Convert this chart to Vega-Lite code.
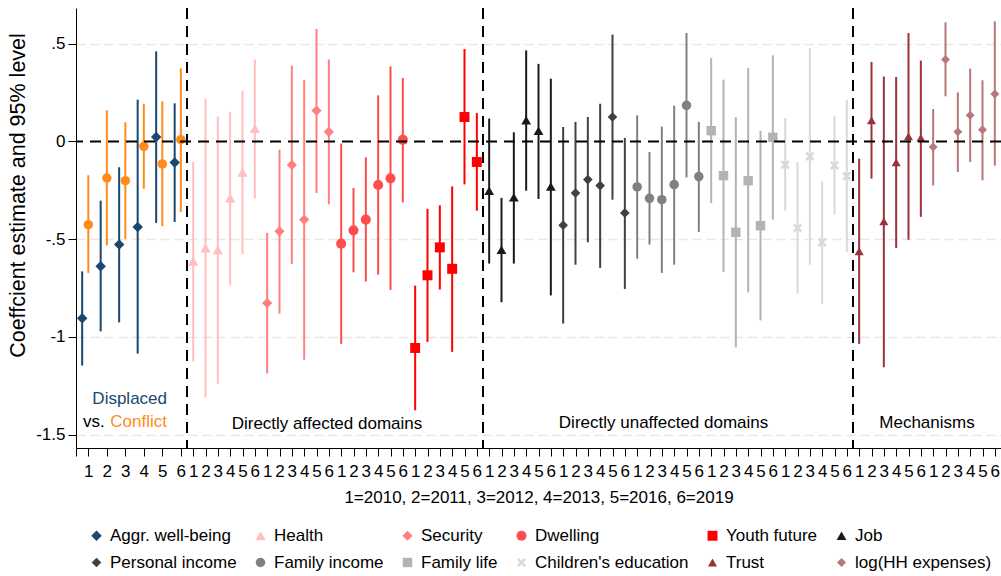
{
  "$schema": "https://vega.github.io/schema/vega-lite/v6.json",
  "width": 925,
  "height": 440,
  "autosize": {"type": "none"},
  "padding": {"left": 76, "top": 8, "right": 0, "bottom": 128},
  "config": {"font": "Liberation Sans", "view": {"stroke": null}},
  "resolve": {"axis": {"x": "independent", "y": "independent"}, "legend": {"color": "independent", "shape": "independent", "size": "independent"}},
  "datasets": {
    "main": [
      {"s": "Aggr. well-being", "x": 0.5, "est": -0.905, "lo": -1.147, "hi": -0.665},
      {"s": "Aggr. well-being", "x": 2, "est": -0.639, "lo": -0.972, "hi": -0.303},
      {"s": "Aggr. well-being", "x": 3.5, "est": -0.528, "lo": -0.926, "hi": -0.132},
      {"s": "Aggr. well-being", "x": 5, "est": -0.438, "lo": -1.086, "hi": 0.214},
      {"s": "Aggr. well-being", "x": 6.5, "est": 0.023, "lo": -0.417, "hi": 0.461},
      {"s": "Aggr. well-being", "x": 8, "est": -0.108, "lo": -0.412, "hi": 0.195},
      {"s": "Health", "x": 9.5, "est": -0.613, "lo": -1.125, "hi": -0.105},
      {"s": "Health", "x": 10.5, "est": -0.545, "lo": -1.31, "hi": 0.219},
      {"s": "Health", "x": 11.5, "est": -0.554, "lo": -1.24, "hi": 0.128},
      {"s": "Health", "x": 12.5, "est": -0.289, "lo": -0.736, "hi": 0.151},
      {"s": "Health", "x": 13.5, "est": -0.158, "lo": -0.576, "hi": 0.26},
      {"s": "Health", "x": 14.5, "est": 0.066, "lo": -0.293, "hi": 0.419},
      {"s": "Security", "x": 15.5, "est": -0.827, "lo": -1.188, "hi": -0.468},
      {"s": "Security", "x": 16.5, "est": -0.46, "lo": -0.881, "hi": -0.042},
      {"s": "Security", "x": 17.5, "est": -0.12, "lo": -0.627, "hi": 0.388},
      {"s": "Security", "x": 18.5, "est": -0.4, "lo": -1.117, "hi": 0.316},
      {"s": "Security", "x": 19.5, "est": 0.158, "lo": -0.264, "hi": 0.576},
      {"s": "Security", "x": 20.5, "est": 0.049, "lo": -0.322, "hi": 0.419},
      {"s": "Dwelling", "x": 21.5, "est": -0.523, "lo": -1.036, "hi": -0.011},
      {"s": "Dwelling", "x": 22.5, "est": -0.455, "lo": -0.67, "hi": -0.238},
      {"s": "Dwelling", "x": 23.5, "est": -0.4, "lo": -0.717, "hi": -0.081},
      {"s": "Dwelling", "x": 24.5, "est": -0.223, "lo": -0.682, "hi": 0.236},
      {"s": "Dwelling", "x": 25.5, "est": -0.189, "lo": -0.76, "hi": 0.384},
      {"s": "Dwelling", "x": 26.5, "est": 0.008, "lo": -0.312, "hi": 0.325},
      {"s": "Youth future", "x": 27.5, "est": -1.057, "lo": -1.376, "hi": -0.738},
      {"s": "Youth future", "x": 28.5, "est": -0.685, "lo": -1.026, "hi": -0.345},
      {"s": "Youth future", "x": 29.5, "est": -0.542, "lo": -0.758, "hi": -0.327},
      {"s": "Youth future", "x": 30.5, "est": -0.652, "lo": -1.077, "hi": -0.23},
      {"s": "Youth future", "x": 31.5, "est": 0.125, "lo": -0.22, "hi": 0.473},
      {"s": "Youth future", "x": 32.5, "est": -0.105, "lo": -0.354, "hi": 0.146},
      {"s": "Job", "x": 33.5, "est": -0.252, "lo": -0.625, "hi": 0.117},
      {"s": "Job", "x": 34.5, "est": -0.554, "lo": -0.823, "hi": -0.289},
      {"s": "Job", "x": 35.5, "est": -0.286, "lo": -0.625, "hi": 0.047},
      {"s": "Job", "x": 36.5, "est": 0.108, "lo": -0.252, "hi": 0.466},
      {"s": "Job", "x": 37.5, "est": 0.055, "lo": -0.294, "hi": 0.397},
      {"s": "Job", "x": 38.5, "est": -0.23, "lo": -0.788, "hi": 0.321},
      {"s": "Personal income", "x": 39.5, "est": -0.429, "lo": -0.932, "hi": 0.074},
      {"s": "Personal income", "x": 40.5, "est": -0.264, "lo": -0.631, "hi": 0.1},
      {"s": "Personal income", "x": 41.5, "est": -0.195, "lo": -0.516, "hi": 0.125},
      {"s": "Personal income", "x": 42.5, "est": -0.226, "lo": -0.647, "hi": 0.193},
      {"s": "Personal income", "x": 43.5, "est": 0.125, "lo": -0.298, "hi": 0.547},
      {"s": "Personal income", "x": 44.5, "est": -0.366, "lo": -0.755, "hi": 0.018},
      {"s": "Family income", "x": 45.5, "est": -0.233, "lo": -0.6, "hi": 0.134},
      {"s": "Family income", "x": 46.5, "est": -0.291, "lo": -0.528, "hi": -0.054},
      {"s": "Family income", "x": 47.5, "est": -0.298, "lo": -0.673, "hi": 0.076},
      {"s": "Family income", "x": 48.5, "est": -0.221, "lo": -0.631, "hi": 0.183},
      {"s": "Family income", "x": 49.5, "est": 0.185, "lo": -0.184, "hi": 0.555},
      {"s": "Family income", "x": 50.5, "est": -0.18, "lo": -0.463, "hi": 0.1},
      {"s": "Family life", "x": 51.5, "est": 0.055, "lo": -0.315, "hi": 0.427},
      {"s": "Family life", "x": 52.5, "est": -0.175, "lo": -0.668, "hi": 0.316},
      {"s": "Family life", "x": 53.5, "est": -0.465, "lo": -1.054, "hi": 0.125},
      {"s": "Family life", "x": 54.5, "est": -0.201, "lo": -0.772, "hi": 0.376},
      {"s": "Family life", "x": 55.5, "est": -0.431, "lo": -0.916, "hi": 0.055},
      {"s": "Family life", "x": 56.5, "est": 0.021, "lo": -0.4, "hi": 0.441},
      {"s": "Children's education", "x": 57.5, "est": -0.119, "lo": -0.354, "hi": 0.12},
      {"s": "Children's education", "x": 58.5, "est": -0.443, "lo": -0.779, "hi": -0.105},
      {"s": "Children's education", "x": 59.5, "est": -0.076, "lo": -0.631, "hi": 0.478},
      {"s": "Children's education", "x": 60.5, "est": -0.516, "lo": -0.83, "hi": -0.204},
      {"s": "Children's education", "x": 61.5, "est": -0.122, "lo": -0.375, "hi": 0.132},
      {"s": "Children's education", "x": 62.5, "est": -0.178, "lo": -0.567, "hi": 0.214},
      {"s": "Trust", "x": 63.5, "est": -0.562, "lo": -1.036, "hi": -0.088},
      {"s": "Trust", "x": 64.5, "est": 0.108, "lo": -0.19, "hi": 0.407},
      {"s": "Trust", "x": 65.5, "est": -0.409, "lo": -1.156, "hi": 0.333},
      {"s": "Trust", "x": 66.5, "est": -0.107, "lo": -0.545, "hi": 0.33},
      {"s": "Trust", "x": 67.5, "est": 0.026, "lo": -0.503, "hi": 0.555},
      {"s": "Trust", "x": 68.5, "est": 0.018, "lo": -0.386, "hi": 0.414},
      {"s": "log(HH expenses)", "x": 69.5, "est": -0.028, "lo": -0.225, "hi": 0.166},
      {"s": "log(HH expenses)", "x": 70.5, "est": 0.419, "lo": 0.231, "hi": 0.61},
      {"s": "log(HH expenses)", "x": 71.5, "est": 0.049, "lo": -0.156, "hi": 0.251},
      {"s": "log(HH expenses)", "x": 72.5, "est": 0.134, "lo": -0.105, "hi": 0.373},
      {"s": "log(HH expenses)", "x": 73.5, "est": 0.06, "lo": -0.199, "hi": 0.313},
      {"s": "log(HH expenses)", "x": 74.5, "est": 0.243, "lo": -0.124, "hi": 0.615}
    ],
    "conflict": [
      {"s": "Conflict", "x": 1, "est": -0.426, "lo": -0.673, "hi": -0.173},
      {"s": "Conflict", "x": 2.5, "est": -0.187, "lo": -0.532, "hi": 0.159},
      {"s": "Conflict", "x": 4, "est": -0.201, "lo": -0.499, "hi": 0.098},
      {"s": "Conflict", "x": 5.5, "est": -0.025, "lo": -0.242, "hi": 0.193},
      {"s": "Conflict", "x": 7, "est": -0.115, "lo": -0.434, "hi": 0.205},
      {"s": "Conflict", "x": 8.5, "est": 0.009, "lo": -0.361, "hi": 0.374}
    ]
  },
  "layer": [
    {
      "data": {"name": "main"},
      "mark": {"type": "rule", "strokeWidth": 2},
      "encoding": {
        "x": {
          "field": "x", "type": "quantitative",
          "scale": {"domain": [0, 75], "nice": false, "zero": false},
          "axis": {
            "values": [0, 1, 2.5, 4, 5.5, 7, 8.5, 9.5, 10.5, 11.5, 12.5, 13.5, 14.5, 15.5, 16.5, 17.5, 18.5, 19.5, 20.5, 21.5, 22.5, 23.5, 24.5, 25.5, 26.5, 27.5, 28.5, 29.5, 30.5, 31.5, 32.5, 33.5, 34.5, 35.5, 36.5, 37.5, 38.5, 39.5, 40.5, 41.5, 42.5, 43.5, 44.5, 45.5, 46.5, 47.5, 48.5, 49.5, 50.5, 51.5, 52.5, 53.5, 54.5, 55.5, 56.5, 57.5, 58.5, 59.5, 60.5, 61.5, 62.5, 63.5, 64.5, 65.5, 66.5, 67.5, 68.5, 69.5, 70.5, 71.5, 72.5, 73.5, 74.5],
            "labelExpr": "datum.value == 0 ? '' : (datum.value < 9 ? toString((datum.value - 1) / 1.5 + 1) : toString((datum.value - 9.5) % 6 + 1))",
            "title": "1=2010, 2=2011, 3=2012, 4=2013, 5=2016, 6=2019",
            "titleFontSize": 17, "titleFontWeight": "normal", "titleColor": "black",
            "titleY": 41, "titleBaseline": "top",
            "labelFontSize": 17, "labelColor": "black", "labelPadding": 7,
            "labelOverlap": false, "labelFlush": false, "labelAngle": 0,
            "tickSize": 8, "tickColor": "black", "domainColor": "black", "grid": false
          }
        },
        "y": {
          "field": "lo", "type": "quantitative",
          "scale": {"domain": [-1.569, 0.683], "nice": false, "zero": false},
          "axis": {
            "values": [-1.5, -1, -0.5, 0, 0.5],
            "labelExpr": "replace(toString(datum.value), '0.', '.')",
            "title": "Coeffcient estimate and 95% level",
            "titleFontSize": 21.5, "titleFontWeight": "normal", "titleColor": "black",
            "titleX": -58, "titleY": 187, "titleAngle": -90, "titleBaseline": "middle", "titleAlign": "center",
            "labelFontSize": 17, "labelColor": "black", "labelPadding": 3,
            "tickSize": 8, "tickColor": "black", "domainColor": "black",
            "grid": true, "gridColor": "#e6e6e6", "gridDash": [9, 5], "gridWidth": 1.5,
            "gridOpacity": {"condition": {"test": "datum.value === 0", "value": 0}, "value": 1}
          }
        },
        "y2": {"field": "hi"},
        "color": {
          "field": "s", "type": "nominal", "legend": null,
          "scale": {
            "domain": ["Aggr. well-being", "Health", "Security", "Dwelling", "Youth future", "Job", "Personal income", "Family income", "Family life", "Children's education", "Trust", "log(HH expenses)"],
            "range": ["#1a476f", "#ffbfbf", "#ff8080", "#ff4d4d", "#ff0000", "#1a1a1a", "#404040", "#808080", "#b3b3b3", "#d9d9d9", "#993339", "#b8777b"]
          }
        }
      }
    },
    {
      "data": {"name": "conflict"},
      "mark": {"type": "rule", "strokeWidth": 2, "color": "#ff8c1a"},
      "encoding": {
        "x": {"field": "x", "type": "quantitative", "scale": {"domain": [0, 75], "nice": false, "zero": false}, "axis": null},
        "y": {"field": "lo", "type": "quantitative", "scale": {"domain": [-1.569, 0.683], "nice": false, "zero": false}, "axis": null},
        "y2": {"field": "hi"}
      }
    },
    {
      "data": {"name": "main"},
      "mark": {"type": "point", "filled": true, "opacity": 1, "strokeWidth": 0},
      "encoding": {
        "x": {"field": "x", "type": "quantitative", "scale": {"domain": [0, 75], "nice": false, "zero": false}, "axis": null},
        "y": {"field": "est", "type": "quantitative", "scale": {"domain": [-1.569, 0.683], "nice": false, "zero": false}, "axis": null},
        "color": {
          "field": "s", "type": "nominal",
          "scale": {
            "domain": ["Aggr. well-being", "Health", "Security", "Dwelling", "Youth future", "Job", "Personal income", "Family income", "Family life", "Children's education", "Trust", "log(HH expenses)"],
            "range": ["#1a476f", "#ffbfbf", "#ff8080", "#ff4d4d", "#ff0000", "#1a1a1a", "#404040", "#808080", "#b3b3b3", "#d9d9d9", "#993339", "#b8777b"]
          },
          "legend": {
            "orient": "none", "legendX": 12, "legendY": 519, "direction": "horizontal", "columns": 6,
            "title": null, "labelFontSize": 17, "labelColor": "black", "symbolSize": 64,
            "columnPadding": 15, "rowPadding": 9, "labelOffset": 5, "symbolStrokeWidth": 0, "padding": 0
          }
        },
        "shape": {
          "field": "s", "type": "nominal",
          "scale": {
            "domain": ["Aggr. well-being", "Health", "Security", "Dwelling", "Youth future", "Job", "Personal income", "Family income", "Family life", "Children's education", "Trust", "log(HH expenses)"],
            "range": ["diamond", "triangle-up", "diamond", "circle", "square", "triangle-up", "diamond", "circle", "square", "M-1,-0.6L-0.6,-1L0,-0.4L0.6,-1L1,-0.6L0.4,0L1,0.6L0.6,1L0,0.4L-0.6,1L-1,0.6L-0.4,0Z", "triangle-up", "diamond"]
          },
          "legend": {
            "orient": "none", "legendX": 12, "legendY": 519, "direction": "horizontal", "columns": 6,
            "title": null, "labelFontSize": 17, "labelColor": "black", "symbolSize": 64,
            "columnPadding": 15, "rowPadding": 9, "labelOffset": 5, "symbolStrokeWidth": 0, "padding": 0
          }
        },
        "size": {
          "field": "s", "type": "nominal", "legend": null,
          "scale": {
            "domain": ["Aggr. well-being", "Health", "Security", "Dwelling", "Youth future", "Job", "Personal income", "Family income", "Family life", "Children's education", "Trust", "log(HH expenses)"],
            "range": [110, 80, 115, 110, 50, 80, 110, 100, 50, 28, 80, 110]
          }
        }
      }
    },
    {
      "data": {"name": "conflict"},
      "mark": {"type": "point", "filled": true, "opacity": 1, "strokeWidth": 0, "shape": "circle", "size": 90, "color": "#ff8c1a"},
      "encoding": {
        "x": {"field": "x", "type": "quantitative", "scale": {"domain": [0, 75], "nice": false, "zero": false}, "axis": null},
        "y": {"field": "est", "type": "quantitative", "scale": {"domain": [-1.569, 0.683], "nice": false, "zero": false}, "axis": null}
      }
    },
    {
      "data": {"values": [{"v": 9}, {"v": 33}, {"v": 63}]},
      "mark": {"type": "rule", "color": "black", "strokeWidth": 2, "strokeDash": [11, 7]},
      "encoding": {
        "x": {"field": "v", "type": "quantitative", "scale": {"domain": [0, 75], "nice": false, "zero": false}, "axis": null}
      }
    },
    {
      "data": {"values": [{"v": 0}]},
      "mark": {"type": "rule", "color": "black", "strokeWidth": 2, "strokeDash": [11, 7]},
      "encoding": {
        "y": {"field": "v", "type": "quantitative", "scale": {"domain": [-1.569, 0.683], "nice": false, "zero": false}, "axis": null}
      }
    },
    {
      "data": {"values": [
        {"label": "Directly affected domains", "x": 20.35, "y": -1.445},
        {"label": "Directly unaffected domains", "x": 47.64, "y": -1.44},
        {"label": "Mechanisms", "x": 69.0, "y": -1.44},
        {"label": "vs.", "x": 1.445, "y": -1.4375}
      ]},
      "mark": {"type": "text", "fontSize": 17, "color": "black", "align": "center", "baseline": "middle"},
      "encoding": {
        "x": {"field": "x", "type": "quantitative", "scale": {"domain": [0, 75], "nice": false, "zero": false}, "axis": null},
        "y": {"field": "y", "type": "quantitative", "scale": {"domain": [-1.569, 0.683], "nice": false, "zero": false}, "axis": null},
        "text": {"field": "label"}
      }
    },
    {
      "data": {"values": [{"label": "Displaced", "x": 7.38, "y": -1.316}]},
      "mark": {"type": "text", "fontSize": 17, "color": "#1a476f", "align": "right", "baseline": "middle"},
      "encoding": {
        "x": {"field": "x", "type": "quantitative", "scale": {"domain": [0, 75], "nice": false, "zero": false}, "axis": null},
        "y": {"field": "y", "type": "quantitative", "scale": {"domain": [-1.569, 0.683], "nice": false, "zero": false}, "axis": null},
        "text": {"field": "label"}
      }
    },
    {
      "data": {"values": [{"label": "Conflict", "x": 7.38, "y": -1.4375}]},
      "mark": {"type": "text", "fontSize": 17, "color": "#ff8c1a", "align": "right", "baseline": "middle"},
      "encoding": {
        "x": {"field": "x", "type": "quantitative", "scale": {"domain": [0, 75], "nice": false, "zero": false}, "axis": null},
        "y": {"field": "y", "type": "quantitative", "scale": {"domain": [-1.569, 0.683], "nice": false, "zero": false}, "axis": null},
        "text": {"field": "label"}
      }
    }
  ]
}
